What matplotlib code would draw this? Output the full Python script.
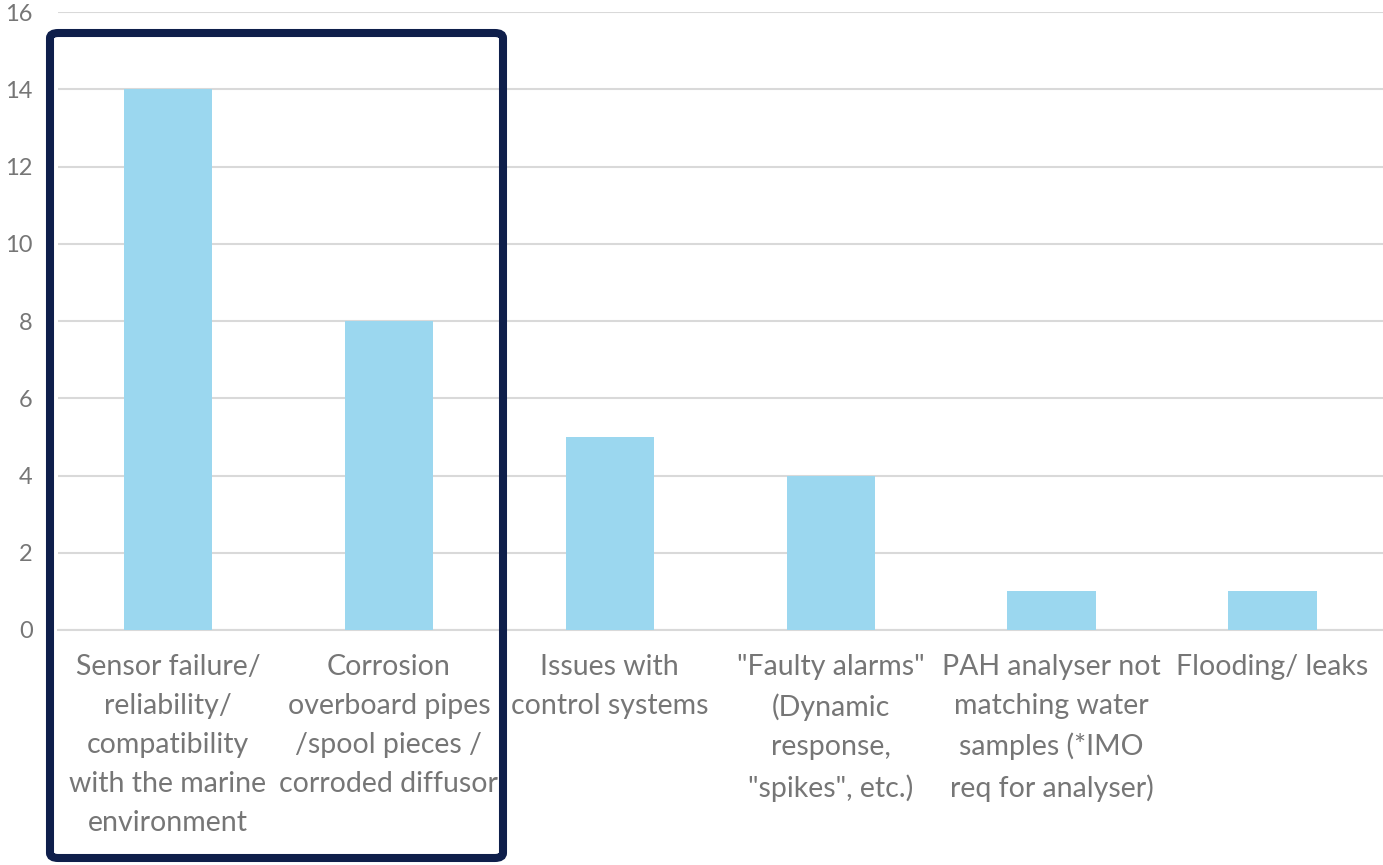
import matplotlib.pyplot as plt
from matplotlib.patches import FancyBboxPatch

# Reported operational issues, count of responses per category
categories = [
    "Sensor failure/\nreliability/\ncompatibility\nwith the marine\nenvironment",
    "Corrosion\noverboard pipes\n/spool pieces /\ncorroded diffusor",
    "Issues with\ncontrol systems",
    "\"Faulty alarms\"\n(Dynamic\nresponse,\n\"spikes\", etc.)",
    "PAH analyser not\nmatching water\nsamples (*IMO\nreq for analyser)",
    "Flooding/ leaks",
]
counts = [14, 8, 5, 4, 1, 1]
y_ticks = [0, 2, 4, 6, 8, 10, 12, 14, 16]

bar_color = "#9BD7EF"
text_color = "#767676"
grid_color = "#D9D9D9"
box_color = "#0F1F4B"

plt.rcParams["font.family"] = ["Lato", "DejaVu Sans"]

fig = plt.figure(figsize=(13.83, 8.65), dpi=100)
ax = fig.add_axes([0.0416, 0.2717, 0.9584, 0.7143])

x = range(len(categories))
ax.bar(x, counts, width=0.4, color=bar_color, zorder=3)

ax.set_xlim(-0.5, len(categories) - 0.5)
ax.set_ylim(0, 16)
ax.set_yticks(y_ticks)
ax.set_xticks(list(x))
ax.set_xticklabels(categories, fontsize=20.5, color=text_color, linespacing=1.62)
ax.tick_params(axis="y", labelsize=17, colors=text_color, length=0, pad=18)
ax.tick_params(axis="x", length=0, pad=17)

ax.grid(axis="y", color=grid_color, linewidth=1.5, zorder=0)
for side in ["top", "right", "left"]:
    ax.spines[side].set_visible(False)
ax.spines["bottom"].set_color(grid_color)
ax.spines["bottom"].set_linewidth(1.5)

# highlight box around the first two categories (figure pixel coordinates)
W, H = 1383, 865
box = FancyBboxPatch((50 / W, (H - 858) / H), 453 / W, 825 / H,
                     boxstyle="round,pad=0,rounding_size=0.006",
                     transform=fig.transFigure, fill=False,
                     edgecolor=box_color, linewidth=5.8, zorder=10)
fig.patches.append(box)

fig.savefig("out.png", dpi=100)
